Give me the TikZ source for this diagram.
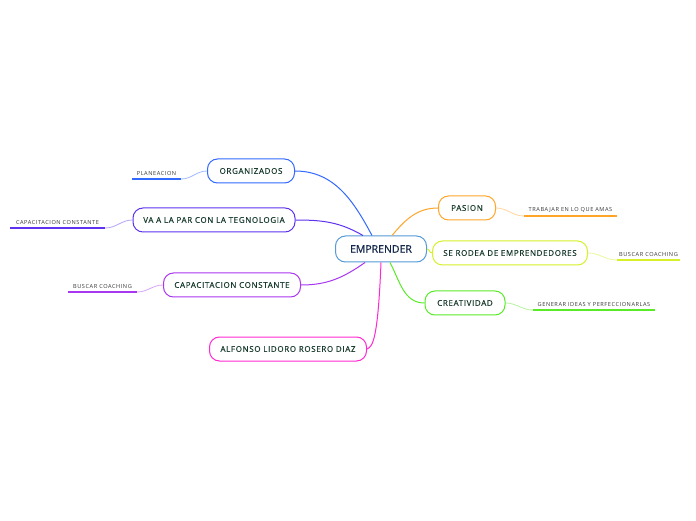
\documentclass[tikz,border=0pt]{standalone}
\usepackage{fontspec}
\setmainfont{Open Sans}
\newfontfamily\topicfont[LetterSpace=8, FakeBold=0.4]{Open Sans}
\newfontfamily\rootfont[FakeBold=0.5]{Open Sans}
\newfontfamily\leaffont[LetterSpace=10]{Open Sans}
\usepackage{xcolor}
\definecolor{colRoot}{RGB}{85, 155, 215}
\definecolor{colOrg}{RGB}{50, 105, 255}
\definecolor{colTeg}{RGB}{95, 50, 240}
\definecolor{colCap}{RGB}{170, 55, 240}
\definecolor{colAlf}{RGB}{255, 40, 210}
\definecolor{colPas}{RGB}{255, 165, 40}
\definecolor{colRod}{RGB}{215, 240, 40}
\definecolor{colCre}{RGB}{90, 235, 40}
\definecolor{darkText}{RGB}{25, 60, 45}
\definecolor{rootText}{RGB}{20, 40, 75}
\definecolor{leafText}{RGB}{55, 55, 55}

\begin{document}
\begin{tikzpicture}[x=1pt, y=1pt]

  % Canvas (696 x 520, origin bottom left)
  \useasboundingbox[fill=white] (0, 0) rectangle (696, 520);

  % Helper styles for topic boxes and leaf labels
  \tikzset{
    topic/.style={
      draw, line width=1pt, fill=white, rounded corners=10pt,
      minimum height=24pt, inner sep=0pt,
      font=\topicfont\fontsize{8}{9}\selectfont, text=darkText
    },
    leaf/.style={
      anchor=south, inner xsep=0pt, inner ysep=3pt,
      font=\leaffont\fontsize{5.6}{6}\selectfont, text=leafText
    },
    branch/.style={line width=1pt},
    twig/.style={line width=0.8pt, draw opacity=0.45},
    underline/.style={line width=1.8pt}
  }

  % --- Central topic ---
  \node[topic, draw=colRoot, minimum width=91pt, minimum height=26pt,
        font=\rootfont\fontsize{10.5}{12}\selectfont, text=rootText] (emp) at (381, 271) {EMPRENDER};

  % --- Left side topics ---
  \node[topic, draw=colOrg, minimum width=87pt]  (org) at (251, 349) {ORGANIZADOS};
  \node[topic, draw=colTeg, minimum width=162pt] (teg) at (214, 300) {VA A LA PAR CON LA TEGNOLOGIA};
  \node[topic, draw=colCap, minimum width=137pt] (cap) at (232, 235) {CAPACITACION CONSTANTE};
  \node[topic, draw=colAlf, minimum width=157pt] (alf) at (288, 171) {ALFONSO LIDORO ROSERO DIAZ};

  % --- Right side topics ---
  \node[topic, draw=colPas, minimum width=57pt]  (pas) at (467, 312) {PASION};
  \node[topic, draw=colRod, minimum width=155pt] (rod) at (510, 267) {SE RODEA DE EMPRENDEDORES};
  \node[topic, draw=colCre, minimum width=80pt]  (cre) at (465, 217) {CREATIVIDAD};

  % --- Leaf labels (text sitting on a coloured underline) ---
  \node[leaf, minimum width=49pt]  (plan) at (156.5, 341) {PLANEACION};
  \node[leaf, minimum width=95pt]  (capc) at (57.5, 292)  {CAPACITACION CONSTANTE};
  \node[leaf, minimum width=69pt]  (busl) at (102.5, 228) {BUSCAR COACHING};
  \node[leaf, minimum width=93pt]  (trab) at (570.5, 304) {TRABAJAR EN LO QUE AMAS};
  \node[leaf, minimum width=63pt]  (busr) at (648.5, 260) {BUSCAR COACHING};
  \node[leaf, minimum width=122pt] (gen)  at (594, 210)   {GENERAR IDEAS Y PERFECCIONARLAS};

  \draw[underline, colOrg] (plan.south west) -- (plan.south east);
  \draw[underline, colTeg] (capc.south west) -- (capc.south east);
  \draw[underline, colCap] (busl.south west) -- (busl.south east);
  \draw[underline, colPas] (trab.south west) -- (trab.south east);
  \draw[underline, colRod] (busr.south west) -- (busr.south east);
  \draw[underline, colCre] (gen.south west) -- (gen.south east);

  % --- Branches from the central topic ---
  \draw[branch, colOrg] ([xshift=-9pt]emp.north) to[out=118, in=0] (org.east);
  \draw[branch, colTeg] ([xshift=-18pt]emp.north) to[out=150, in=0] (teg.east);
  \draw[branch, colCap] ([xshift=-16pt]emp.south) to[out=215, in=0] (cap.east);
  \draw[branch, colAlf] (emp.south) .. controls +(-3,-75) and +(6,2) .. (alf.east);
  \draw[branch, colPas] ([xshift=11pt]emp.north) to[out=50, in=180] (pas.west);
  \draw[branch, colRod] (emp.east) to[out=0, in=180] (rod.west);
  \draw[branch, colCre] ([xshift=9pt]emp.south) to[out=-62, in=180] (cre.west);

  % --- Twigs from topics to their leaves ---
  \draw[twig, colOrg] (org.west) to[out=180, in=0] (plan.south east);
  \draw[twig, colTeg] (teg.west) to[out=180, in=0] (capc.south east);
  \draw[twig, colCap] (cap.west) to[out=180, in=0] (busl.south east);
  \draw[twig, colPas] (pas.east) to[out=0, in=180] (trab.south west);
  \draw[twig, colRod] (rod.east) to[out=0, in=180] (busr.south west);
  \draw[twig, colCre] (cre.east) to[out=0, in=180] (gen.south west);

\end{tikzpicture}
\end{document}
